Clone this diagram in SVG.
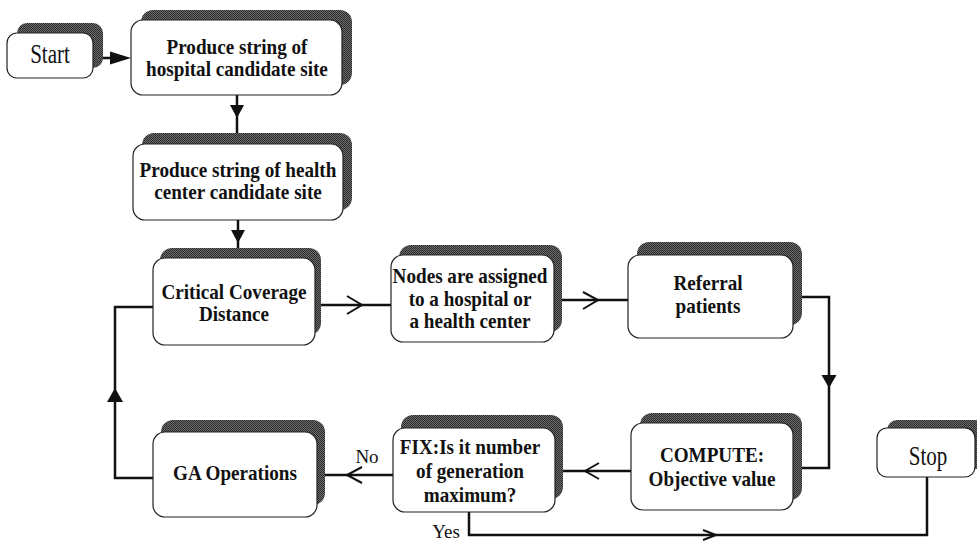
<svg xmlns="http://www.w3.org/2000/svg" width="977" height="541" viewBox="0 0 977 541">
  <defs>
    <pattern id="dots" width="2" height="2" patternUnits="userSpaceOnUse">
      <rect width="2" height="2" fill="#6e6e6e"/>
      <rect width="1" height="1" fill="#2a2a2a"/>
      <rect x="1" y="1" width="1" height="1" fill="#2a2a2a"/>
    </pattern>
  </defs>
  <style>
    .shadow { fill: url(#dots); stroke: none; }
    .box { fill: #ffffff; stroke: #222222; stroke-width: 1.2; }
    .t { font-family: "Liberation Serif", "Times New Roman", serif; font-weight: bold; font-size: 21.5px; fill: #111111; text-anchor: middle; transform-box: fill-box; transform-origin: center; transform: scaleX(0.89); }
    .r { font-family: "Liberation Serif", "Times New Roman", serif; font-size: 27px; fill: #111111; text-anchor: middle; transform-box: fill-box; transform-origin: center; transform: scaleX(0.78); }
    .lbl { font-family: "Liberation Serif", "Times New Roman", serif; font-size: 19px; fill: #111111; text-anchor: middle; }
    .line { fill: none; stroke: #111111; stroke-width: 2.5; }
    .chev { fill: none; stroke: #111111; stroke-width: 2; stroke-linejoin: miter; }
    .head { fill: #111111; stroke: none; }
  </style>
  <rect width="977" height="541" fill="#ffffff"/>

  <g id="connectors">
    <line class="line" x1="93" y1="58" x2="112" y2="58"/>
    <polygon class="head" points="110,51.5 131,58 110,64.5"/>

    <line class="line" x1="237" y1="95" x2="237" y2="143"/>
    <polygon class="head" points="230,105 244,105 237,118"/>

    <line class="line" x1="238" y1="220" x2="238" y2="258"/>
    <polygon class="head" points="231,230 245,230 238,243"/>

    <line class="line" x1="315" y1="305" x2="391" y2="305"/>
    <polyline class="chev" points="347,296 362,305 347,314"/>

    <line class="line" x1="554" y1="300" x2="628" y2="300"/>
    <polyline class="chev" points="583,292 598,300 583,309"/>

    <path class="line" d="M793,297 H829 V468 H793"/>
    <polygon class="head" points="821.5,375 836.5,375 829,388"/>

    <line class="line" x1="631" y1="471" x2="555" y2="471"/>
    <polyline class="chev" points="599,463 585,471 599,479"/>

    <line class="line" x1="393" y1="475" x2="317" y2="475"/>
    <polyline class="chev" points="362,467 347,475 362,483"/>

    <path class="line" d="M153,478 H115 V307 H153"/>
    <polygon class="head" points="107,402 123,402 115,388"/>

    <path class="line" d="M469,512 V535 H927 V477"/>
    <polyline class="chev" points="703,530 716,535 703,540"/>

    <text class="lbl" x="367" y="463">No</text>
    <text class="lbl" x="446" y="538">Yes</text>
  </g>

  <g id="start">
    <rect class="shadow" x="17" y="23" width="86" height="45" rx="10"/>
    <rect class="box" x="7" y="33" width="86" height="45" rx="10"/>
    <text class="r" x="50" y="63.5">Start</text>
  </g>

  <g id="hospital">
    <rect class="shadow" x="141" y="10" width="211" height="75" rx="12"/>
    <rect class="box" x="131" y="20" width="211" height="75" rx="12"/>
    <text class="t" x="237" y="54">Produce string of</text>
    <text class="t" x="237" y="76.5">hospital candidate site</text>
  </g>

  <g id="health">
    <rect class="shadow" x="142" y="133" width="210" height="77" rx="12"/>
    <rect class="box" x="133" y="144" width="210" height="76" rx="12"/>
    <text class="t" x="238" y="177">Produce string of health</text>
    <text class="t" x="238" y="199.5">center candidate site</text>
  </g>

  <g id="critical">
    <rect class="shadow" x="160" y="248" width="161" height="87" rx="12"/>
    <rect class="box" x="153" y="258" width="162" height="87" rx="12"/>
    <text class="t" x="234" y="299">Critical Coverage</text>
    <text class="t" x="234" y="321.5">Distance</text>
  </g>

  <g id="nodes">
    <rect class="shadow" x="399" y="245" width="163" height="87" rx="12"/>
    <rect class="box" x="391" y="255" width="163" height="87" rx="12"/>
    <text class="t" x="470" y="283.5">Nodes are assigned</text>
    <text class="t" x="470" y="306">to a hospital or</text>
    <text class="t" x="470" y="328.5">a health center</text>
  </g>

  <g id="referral">
    <rect class="shadow" x="637" y="242" width="165" height="83" rx="12"/>
    <rect class="box" x="628" y="255" width="165" height="83" rx="12"/>
    <text class="t" x="708" y="290">Referral</text>
    <text class="t" x="708" y="313">patients</text>
  </g>

  <g id="compute">
    <rect class="shadow" x="640" y="413" width="162" height="87" rx="12"/>
    <rect class="box" x="631" y="423" width="162" height="87" rx="12"/>
    <text class="t" x="712" y="462">COMPUTE:</text>
    <text class="t" x="712" y="486">Objective value</text>
  </g>

  <g id="fix">
    <rect class="shadow" x="401" y="415" width="162" height="84" rx="12"/>
    <rect class="box" x="393" y="428" width="162" height="84" rx="12"/>
    <text class="t" x="470" y="454">FIX:Is it number</text>
    <text class="t" x="470" y="478.5">of generation</text>
    <text class="t" x="470" y="502">maximum?</text>
  </g>

  <g id="ga">
    <rect class="shadow" x="161" y="420" width="164" height="85" rx="12"/>
    <rect class="box" x="153" y="432" width="164" height="85" rx="12"/>
    <text class="t" x="235" y="480">GA Operations</text>
  </g>

  <g id="stop">
    <rect class="shadow" x="887" y="420" width="98" height="49" rx="10"/>
    <rect class="box" x="877" y="428" width="98" height="49" rx="10"/>
    <text class="r" x="928" y="465">Stop</text>
  </g>
</svg>
